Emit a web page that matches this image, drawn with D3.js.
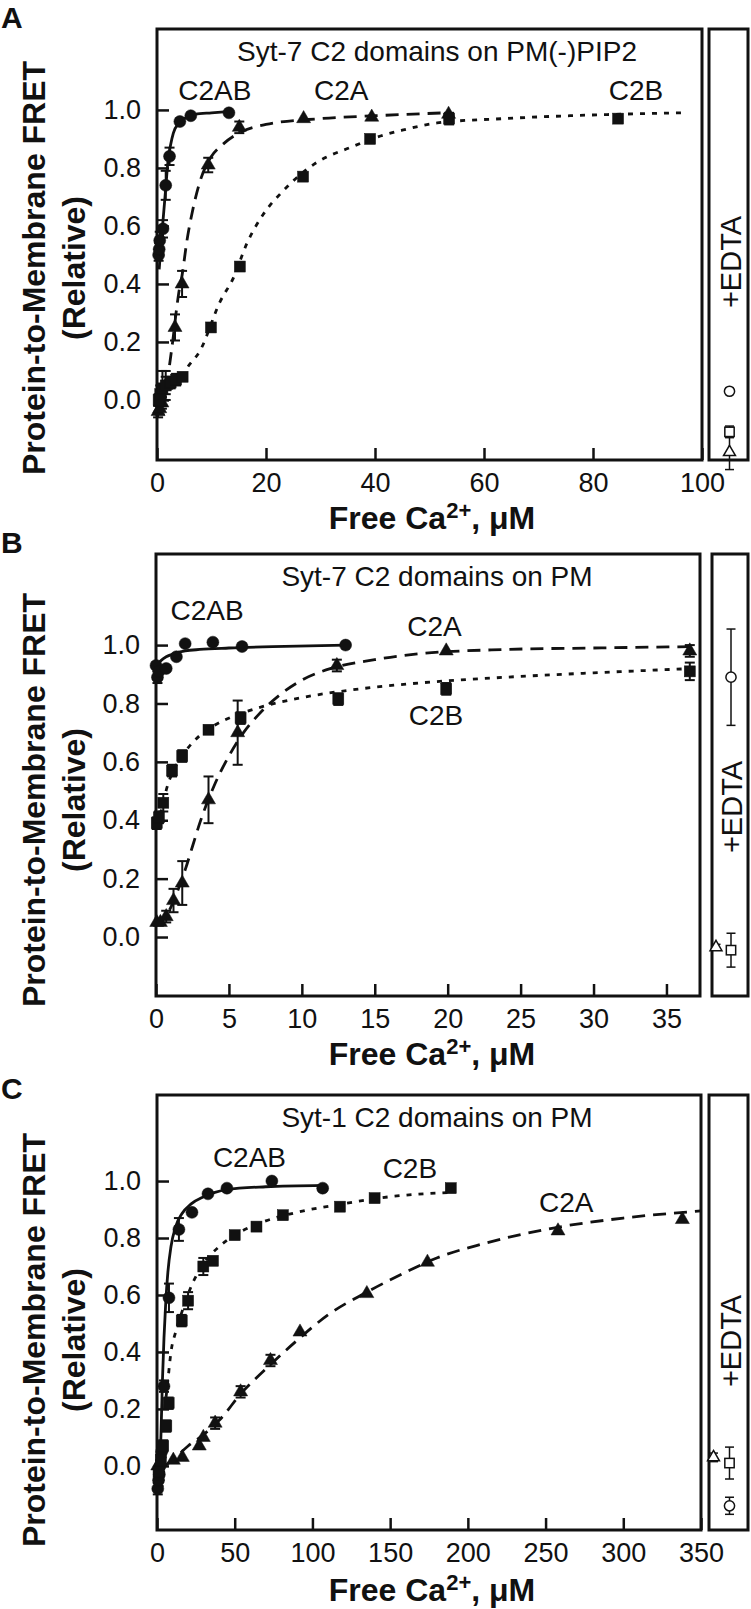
<!DOCTYPE html>
<html><head><meta charset="utf-8">
<script src="https://cdn.jsdelivr.net/npm/d3@7"></script>
<style>body{margin:0;background:#fff}svg{display:block}</style>
</head><body>
<script>
// ---------------- DATA ----------------
// Panel A: Syt-7 C2 domains on PM(-)PIP2
const aTitle = "Syt-7 C2 domains on PM(-)PIP2";
const aXTicks = [0, 20, 40, 60, 80, 100];
const aC2ABx = [0.3, 0.4, 0.5, 1.1, 1.6, 2.3, 4.2, 6.2, 13.2];
const aC2ABy = [0.50, 0.52, 0.55, 0.59, 0.74, 0.84, 0.96, 0.98, 0.99];
const aC2ABe = [0.02, 0.02, 0.03, 0.03, 0.05, 0.03, 0.01, 0.01, 0.01];
const aC2Ax = [0.2, 0.5, 0.9, 1.6, 3.3, 4.6, 9.4, 15.1, 26.9, 39.4, 53.5];
const aC2Ay = [-0.04, -0.03, -0.01, 0.05, 0.25, 0.40, 0.81, 0.94, 0.97, 0.975, 0.985];
const aC2Ae = [0.02, 0.02, 0.02, 0.05, 0.045, 0.045, 0.025, 0.02, 0.01, 0.01, 0.01];
const aC2Bx = [0.3, 0.6, 1.0, 1.6, 2.5, 3.5, 4.7, 9.9, 15.2, 26.8, 39.1, 53.6, 84.6];
const aC2By = [0.0, 0.02, 0.04, 0.05, 0.06, 0.07, 0.08, 0.25, 0.46, 0.77, 0.90, 0.97, 0.97];
const aC2Be = [0.02, 0.03, 0.06, 0.03, 0.02, 0.02, 0.01, 0.01, 0.01, 0.01, 0.01, 0.02, 0.01];
const aFitC2AB = [[0.4,0.45],[0.8,0.55],[1.2,0.64],[1.6,0.73],[2.0,0.82],[2.5,0.88],[3,0.92],[4,0.955],[5,0.97],[7,0.985],[10,0.99],[13.5,0.995]];
const aFitC2A = [[2.3,0.12],[3,0.22],[3.5,0.3],[4,0.37],[4.6,0.43],[5.5,0.55],[6.5,0.65],[8,0.76],[10,0.84],[12,0.88],[15,0.92],[20,0.95],[30,0.97],[40,0.98],[53,0.99]];
const aFitC2B = [[4.5,0.08],[5.5,0.11],[7.9,0.17],[11.6,0.34],[14,0.42],[16.5,0.54],[19.5,0.64],[23.1,0.72],[29.4,0.82],[35.4,0.87],[41,0.91],[45,0.93],[51.4,0.955],[63.5,0.97],[75.8,0.98],[96.3,0.99]];
const aEdtaVal = [-0.18, -0.11, 0.03];   // triangle, square, circle
const aEdtaErr = [0.06, 0.02, 0.01];
const aLabelPos = [[10.6,1.034],[33.8,1.034],[87.9,1.034]]; // C2AB, C2A, C2B

// Panel B: Syt-7 C2 domains on PM
const bTitle = "Syt-7 C2 domains on PM";
const bXTicks = [0, 5, 10, 15, 20, 25, 30, 35];
const bC2ABx = [0.0, 0.1, 0.2, 0.7, 1.4, 2.0, 3.9, 5.9, 13.0];
const bC2ABy = [0.93, 0.89, 0.91, 0.92, 0.96, 1.005, 1.01, 0.995, 1.0];
const bC2ABe = [0.01, 0.02, 0.01, 0.01, 0.01, 0.01, 0.01, 0.01, 0.01];
const bC2Ax = [0.05, 0.3, 0.7, 1.2, 1.8, 3.6, 5.6, 12.4, 19.9, 36.6];
const bC2Ay = [0.05, 0.05, 0.07, 0.125, 0.185, 0.47, 0.70, 0.93, 0.98, 0.98];
const bC2Ae = [0.01, 0.01, 0.02, 0.04, 0.075, 0.08, 0.11, 0.02, 0.01, 0.02];
const bC2Bx = [0.05, 0.2, 0.5, 1.1, 1.8, 3.6, 5.8, 12.5, 19.9, 36.6];
const bC2By = [0.39, 0.41, 0.46, 0.57, 0.62, 0.71, 0.75, 0.815, 0.85, 0.91];
const bC2Be = [0.02, 0.02, 0.03, 0.02, 0.02, 0.01, 0.02, 0.02, 0.02, 0.03];
const bFitC2AB = [[0,0.93],[0.3,0.945],[0.7,0.96],[1.2,0.97],[2,0.98],[3,0.985],[5,0.99],[8,0.995],[13,1.0]];
const bFitC2A = [[0,0.04],[0.5,0.06],[1,0.1],[1.5,0.16],[2,0.23],[2.5,0.31],[3,0.39],[4,0.52],[5,0.62],[6,0.7],[7,0.76],[8.5,0.83],[10,0.88],[12,0.92],[15,0.95],[18,0.97],[24,0.985],[30,0.99],[37,0.995]];
const bFitC2B = [[0.3,0.42],[0.8,0.52],[1.3,0.58],[2,0.635],[3,0.69],[4,0.725],[5.5,0.76],[7,0.785],[10,0.82],[14,0.85],[18,0.87],[24,0.89],[30,0.905],[37,0.92]];
const bEdtaVal = [-0.035, -0.045, 0.89];
const bEdtaErr = [0.01, 0.058, 0.165];
const bLabelPos = [[3.5,1.086],[19.1,1.031],[19.2,0.726]];

// Panel C: Syt-1 C2 domains on PM
const cTitle = "Syt-1 C2 domains on PM";
const cXTicks = [0, 50, 100, 150, 200, 250, 300, 350];
const cC2ABx = [0.5, 1.0, 1.5, 2.0, 3.0, 4.5, 7.7, 14.1, 22.5, 32.8, 45, 73.9, 106.6];
const cC2ABy = [-0.08, -0.05, -0.03, 0.0, 0.05, 0.28, 0.59, 0.83, 0.89, 0.955, 0.975, 1.0, 0.975];
const cC2ABe = [0.02, 0.02, 0.02, 0.02, 0.02, 0.02, 0.05, 0.04, 0.01, 0.01, 0.01, 0.01, 0.01];
const cC2Ax = [0.5, 10.5, 16.3, 27.2, 29.8, 37.4, 53.8, 73, 92, 135, 174, 258, 338];
const cC2Ay = [0.0, 0.02, 0.03, 0.07, 0.10, 0.15, 0.26, 0.37, 0.47, 0.605, 0.715, 0.825, 0.865];
const cC2Ae = [0.01, 0.01, 0.01, 0.01, 0.01, 0.02, 0.02, 0.02, 0.01, 0.01, 0.01, 0.01, 0.01];
const cC2Bx = [1.0, 2.5, 4.0, 6.0, 7.5, 15.9, 20, 29.8, 36, 50, 64, 81, 117.7, 140, 189];
const cC2By = [-0.02, 0.02, 0.07, 0.14, 0.22, 0.51, 0.58, 0.70, 0.72, 0.81, 0.84, 0.88, 0.91, 0.94, 0.975];
const cC2Be = [0.02, 0.02, 0.02, 0.02, 0.02, 0.02, 0.03, 0.03, 0.01, 0.01, 0.01, 0.01, 0.01, 0.01, 0.01];
const cFitC2AB = [[1.5,-0.05],[2.5,0.1],[3.5,0.3],[4.5,0.45],[5.5,0.56],[7,0.68],[9,0.77],[12,0.84],[16,0.885],[22,0.92],[30,0.945],[45,0.97],[70,0.98],[107,0.985]];
const cFitC2A = [[5,0.0],[10,0.02],[20,0.07],[30,0.11],[40,0.16],[55,0.26],[70,0.34],[90,0.44],[110,0.53],[135,0.61],[160,0.68],[180,0.73],[210,0.78],[255,0.835],[300,0.87],[350,0.895]];
const cFitC2B = [[5,0.2],[7,0.3],[9,0.4],[12,0.47],[16,0.54],[22,0.63],[30,0.71],[40,0.77],[50,0.81],[70,0.86],[90,0.89],[120,0.92],[150,0.945],[189,0.96]];
const cEdtaVal = [0.03, 0.01, -0.14];
const cEdtaErr = [0.015, 0.056, 0.03];
const cLabelPos = [[59.5,1.049],[263.3,0.891],[162.7,1.011]];

const yTicks = [0, 0.2, 0.4, 0.6, 0.8, 1.0];
const seriesNames = ["C2AB", "C2A", "C2B"];
const edtaShapes = ["tri", "sq", "circ"];

// ---------------- LAYOUT ----------------
const W = 751, H = 1609;
const FONT = '"Liberation Sans", Arial, Helvetica, sans-serif';
const svg = d3.select("body").append("svg").attr("width", W).attr("height", H)
  .style("font-family", FONT);

const panels = [
  {letter:"A", letterY:28, title:aTitle, xTicks:aXTicks, xDom:[0,100], yDom:[-0.207,1.279],
   box:{l:157,r:702,t:29,b:460}, side:{l:709,r:748}, ylabCy:268, edtaCy:262, edtaOff:[0,0,0],
   xlabBase:529,
   series:[
     {shape:"circ", x:aC2ABx, y:aC2ABy, e:aC2ABe, fit:aFitC2AB, dash:null},
     {shape:"tri", x:aC2Ax, y:aC2Ay, e:aC2Ae, fit:aFitC2A, dash:"13,8"},
     {shape:"sq", x:aC2Bx, y:aC2By, e:aC2Be, fit:aFitC2B, dash:"5,7"}],
   edtaVal:aEdtaVal, edtaErr:aEdtaErr, labels:aLabelPos},
  {letter:"B", letterY:553, title:bTitle, xTicks:bXTicks, xDom:[0,37.3], yDom:[-0.202,1.312],
   box:{l:156,r:700,t:554,b:996}, side:{l:712,r:748}, ylabCy:800, edtaCy:807, edtaOff:[-15,0,0],
   xlabBase:1065,
   series:[
     {shape:"circ", x:bC2ABx, y:bC2ABy, e:bC2ABe, fit:bFitC2AB, dash:null},
     {shape:"tri", x:bC2Ax, y:bC2Ay, e:bC2Ae, fit:bFitC2A, dash:"13,8"},
     {shape:"sq", x:bC2Bx, y:bC2By, e:bC2Be, fit:bFitC2B, dash:"5,7"}],
   edtaVal:bEdtaVal, edtaErr:bEdtaErr, labels:bLabelPos},
  {letter:"C", letterY:1099, title:cTitle, xTicks:cXTicks, xDom:[0,350], yDom:[-0.225,1.302],
   box:{l:157,r:701,t:1095,b:1530}, side:{l:709,r:748}, ylabCy:1340, edtaCy:1341, edtaOff:[-16,0,0],
   xlabBase:1601,
   series:[
     {shape:"circ", x:cC2ABx, y:cC2ABy, e:cC2ABe, fit:cFitC2AB, dash:null},
     {shape:"tri", x:cC2Ax, y:cC2Ay, e:cC2Ae, fit:cFitC2A, dash:"13,8"},
     {shape:"sq", x:cC2Bx, y:cC2By, e:cC2Be, fit:cFitC2B, dash:"5,7"}],
   edtaVal:cEdtaVal, edtaErr:cEdtaErr, labels:cLabelPos}
];

function marker(g, shape, cx, cy, filled, sizeScale) {
  const s = sizeScale || 1;
  const fill = filled ? "#111" : "#fff";
  const stroke = "#111";
  const sw = filled ? 0.5 : 1.5;
  if (shape === "circ") {
    g.append("circle").attr("cx", cx).attr("cy", cy).attr("r", 6 * s)
      .attr("fill", fill).attr("stroke", stroke).attr("stroke-width", sw);
  } else if (shape === "sq") {
    const a = 11 * s;
    g.append("rect").attr("x", cx - a/2).attr("y", cy - a/2).attr("width", a).attr("height", a)
      .attr("fill", fill).attr("stroke", stroke).attr("stroke-width", sw);
  } else {
    g.append("path").attr("d", d3.symbol(d3.symbolTriangle, 85 * s * s)())
      .attr("transform", `translate(${cx},${cy})`)
      .attr("fill", fill).attr("stroke", stroke).attr("stroke-width", sw);
  }
}

function errBar(g, cx, y1, y2, cap, sw) {
  g.append("line").attr("x1", cx).attr("x2", cx).attr("y1", y1).attr("y2", y2)
    .attr("stroke", "#111").attr("stroke-width", sw);
  g.append("line").attr("x1", cx - cap/2).attr("x2", cx + cap/2).attr("y1", y1).attr("y2", y1)
    .attr("stroke", "#111").attr("stroke-width", sw);
  g.append("line").attr("x1", cx - cap/2).attr("x2", cx + cap/2).attr("y1", y2).attr("y2", y2)
    .attr("stroke", "#111").attr("stroke-width", sw);
}

panels.forEach(p => {
  const g = svg.append("g");
  const x = d3.scaleLinear().domain(p.xDom).range([p.box.l, p.box.r]);
  const y = d3.scaleLinear().domain(p.yDom).range([p.box.b, p.box.t]);

  // panel letter
  g.append("text").attr("x", 1).attr("y", p.letterY).text(p.letter)
    .attr("font-size", 30).attr("font-weight", "bold").attr("fill", "#111");

  // axes
  const xa = d3.axisBottom(x).tickValues(p.xTicks).tickSizeInner(-12).tickSizeOuter(0)
    .tickPadding(13).tickFormat(d3.format("d"));
  const gx = g.append("g").attr("transform", `translate(0,${p.box.b})`).call(xa);
  const ya = d3.axisLeft(y).tickValues(yTicks).tickSizeInner(-12).tickSizeOuter(0)
    .tickPadding(16).tickFormat(d3.format(".1f"));
  const gy = g.append("g").attr("transform", `translate(${p.box.l},0)`).call(ya);
  [gx, gy].forEach(a => {
    a.select(".domain").remove();
    a.selectAll(".tick line").attr("stroke", "#111").attr("stroke-width", 2.5);
    a.selectAll(".tick text").attr("font-size", 27).attr("font-family", FONT).attr("fill", "#111");
  });

  // frame
  g.append("rect").attr("x", p.box.l).attr("y", p.box.t)
    .attr("width", p.box.r - p.box.l).attr("height", p.box.b - p.box.t)
    .attr("fill", "none").attr("stroke", "#111").attr("stroke-width", 3);

  // title
  g.append("text").attr("x", 437).attr("y", p.box.t + 32).attr("text-anchor", "middle")
    .attr("font-size", 28).attr("fill", "#111").text(p.title);

  // fit curves
  const line = d3.line().x(d => x(d[0])).y(d => y(d[1])).curve(d3.curveMonotoneX);
  p.series.forEach(s => {
    g.append("path").attr("d", line(s.fit)).attr("fill", "none").attr("stroke", "#111")
      .attr("stroke-width", 2.8).attr("stroke-dasharray", s.dash);
  });

  // error bars + markers
  p.series.forEach(s => {
    s.x.forEach((xv, i) => {
      const e = s.e[i];
      if (e > 0.012) errBar(g, x(xv), y(s.y[i] + e), y(s.y[i] - e), 10, 2);
    });
    s.x.forEach((xv, i) => marker(g, s.shape, x(xv), y(s.y[i]), true));
  });

  // series labels
  p.labels.forEach((lp, i) => {
    g.append("text").attr("x", x(lp[0])).attr("y", y(lp[1])).attr("text-anchor", "middle")
      .attr("font-size", 28).attr("fill", "#111").text(seriesNames[i]);
  });

  // x label
  const xl = g.append("text").attr("x", 432).attr("y", p.xlabBase).attr("text-anchor", "middle")
    .attr("font-size", 32).attr("font-weight", "bold").attr("fill", "#111");
  xl.append("tspan").text("Free Ca");
  xl.append("tspan").attr("font-size", 22).attr("dy", -11).text("2+");
  xl.append("tspan").attr("dy", 11).text(", μM");

  // y label
  const yl = g.append("text").attr("transform", `translate(45,${p.ylabCy}) rotate(-90)`)
    .attr("text-anchor", "middle").attr("font-size", 32).attr("font-weight", "bold").attr("fill", "#111");
  yl.append("tspan").attr("x", 0).attr("y", 0).text("Protein-to-Membrane FRET");
  yl.append("tspan").attr("x", 0).attr("y", 40).text("(Relative)");

  // side EDTA box
  g.append("rect").attr("x", p.side.l).attr("y", p.box.t)
    .attr("width", p.side.r - p.side.l).attr("height", p.box.b - p.box.t)
    .attr("fill", "none").attr("stroke", "#111").attr("stroke-width", 3);
  const sideCx = (p.side.l + p.side.r) / 2 + 1;
  g.append("text").attr("transform", `translate(${sideCx + 11},${p.edtaCy}) rotate(-90)`)
    .attr("text-anchor", "middle").attr("font-size", 29).attr("fill", "#111").text("+EDTA");
  edtaShapes.forEach((sh, i) => {
    const cx = sideCx + p.edtaOff[i];
    const v = p.edtaVal[i], e = p.edtaErr[i];
    errBar(g, cx, y(v + e), y(v - e), 9, 1.5);
    marker(g, sh, cx, y(v), false, 0.85);
  });
});
</script>
</body></html>
